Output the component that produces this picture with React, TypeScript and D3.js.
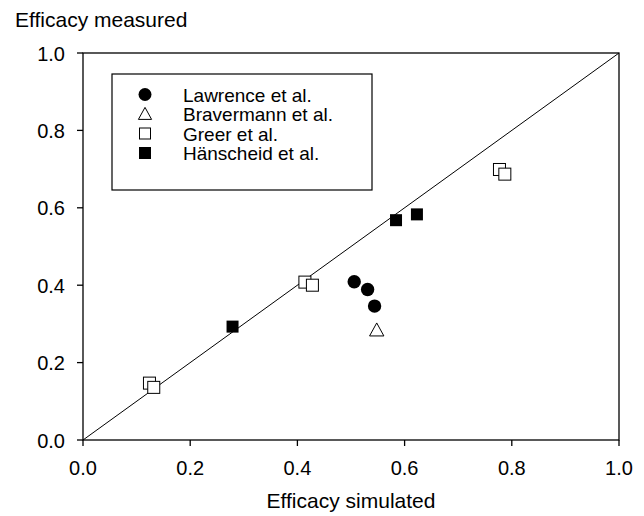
import React from "react";
import * as d3 from "d3";

const ticks = [0, 0.2, 0.4, 0.6, 0.8, 1.0];
const lawrenceX = [0.506, 0.531, 0.544];
const lawrenceY = [0.409, 0.389, 0.346];
const bravermannX = [0.548];
const bravermannY = [0.284];
const greerX = [0.124, 0.132, 0.414, 0.428, 0.777, 0.787];
const greerY = [0.147, 0.136, 0.408, 0.4, 0.699, 0.687];
const hanscheidX = [0.279, 0.584, 0.623];
const hanscheidY = [0.293, 0.568, 0.583];
const legendLabels = ["Lawrence et al.", "Bravermann et al.", "Greer et al.", "Hänscheid et al."];

export default function App() {
  const W = 644, H = 516;
  const L = 83, R = 619, T = 53, B = 440;
  const x = d3.scaleLinear().domain([0, 1]).range([L, R]);
  const y = d3.scaleLinear().domain([0, 1]).range([B, T]);
  const font = "Arial, 'Liberation Sans', sans-serif";
  const sq = 12;
  const tri = (cx: number, cy: number, s: number) =>
    `M${cx},${cy - s * 0.55} L${cx + s * 0.55},${cy + s * 0.45} L${cx - s * 0.55},${cy + s * 0.45} Z`;
  const legendMarkers = [
    (cx: number, cy: number) => <circle cx={cx} cy={cy} r={6.5} fill="black" />,
    (cx: number, cy: number) => <path d={tri(cx, cy, 12)} fill="white" stroke="black" strokeWidth={1} />,
    (cx: number, cy: number) => <rect x={cx - 5.5} y={cy - 5.5} width={11} height={11} fill="white" stroke="black" />,
    (cx: number, cy: number) => <rect x={cx - 6} y={cy - 6} width={12} height={12} fill="black" />,
  ];
  const rowGap = 19.5;
  const row0 = 94.5;
  return (
    <svg width={W} height={H} style={{ position: "absolute", left: 0, top: 0, background: "white" }}>
      <rect x={0} y={0} width={W} height={H} fill="white" />
      <text x={15} y={27} fontFamily={font} fontSize={21}>Efficacy measured</text>
      <text x={(L + R) / 2} y={508} fontFamily={font} fontSize={21} textAnchor="middle">Efficacy simulated</text>
      <rect x={L} y={T} width={R - L} height={B - T} fill="none" stroke="black" strokeWidth={1.3} />
      {ticks.map((t) => (
        <g key={"x" + t}>
          <line x1={x(t)} x2={x(t)} y1={B} y2={B + 6} stroke="black" strokeWidth={1.3} />
          <text x={x(t)} y={475} fontFamily={font} fontSize={20} textAnchor="middle">{t.toFixed(1)}</text>
        </g>
      ))}
      {ticks.map((t) => (
        <g key={"y" + t}>
          <line x1={L - 6} x2={L} y1={y(t)} y2={y(t)} stroke="black" strokeWidth={1.3} />
          <text x={65} y={y(t) + 7.5} fontFamily={font} fontSize={20} textAnchor="end">{t.toFixed(1)}</text>
        </g>
      ))}
      <line x1={x(0)} y1={y(0)} x2={x(1)} y2={y(1)} stroke="black" strokeWidth={1} />
      {greerX.map((v, i) => (
        <rect key={"g" + i} x={x(v) - sq / 2} y={y(greerY[i]) - sq / 2} width={sq} height={sq} fill="white" stroke="black" />
      ))}
      {hanscheidX.map((v, i) => (
        <rect key={"h" + i} x={x(v) - sq / 2} y={y(hanscheidY[i]) - sq / 2} width={sq} height={sq} fill="black" />
      ))}
      {lawrenceX.map((v, i) => (
        <circle key={"l" + i} cx={x(v)} cy={y(lawrenceY[i])} r={6.7} fill="black" />
      ))}
      {bravermannX.map((v, i) => (
        <path key={"b" + i} d={tri(x(v), y(bravermannY[i]), 13)} fill="white" stroke="black" />
      ))}
      <rect x={112} y={74} width={260} height={116} fill="white" stroke="black" strokeWidth={1.2} />
      {legendLabels.map((lab, i) => (
        <g key={lab}>
          {legendMarkers[i](145, row0 + i * rowGap)}
          <text x={183} y={row0 + i * rowGap + 7} fontFamily={font} fontSize={19}>{lab}</text>
        </g>
      ))}
    </svg>
  );
}
